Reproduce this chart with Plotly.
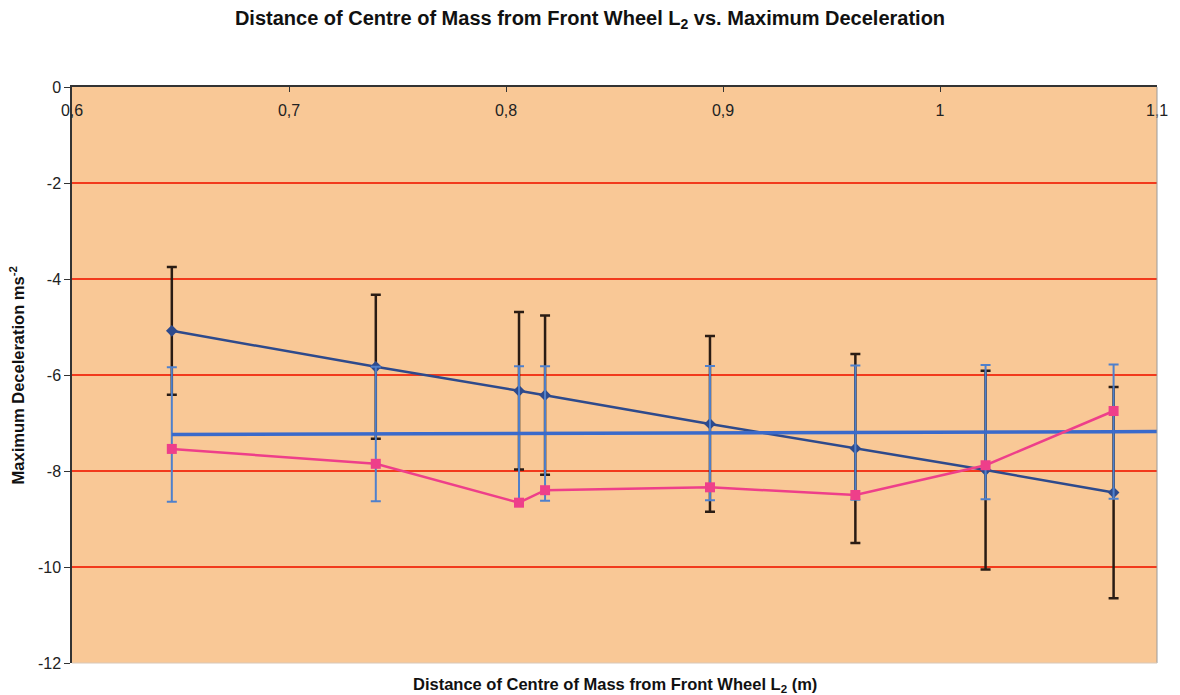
import plotly.graph_objects as go

# ---- data ----
x_l2 = [0.646, 0.740, 0.806, 0.818, 0.894, 0.961, 1.021, 1.080]

decel_a = [-5.08, -5.83, -6.33, -6.42, -7.02, -7.53, -7.98, -8.45]
decel_a_err = [1.33, 1.50, 1.64, 1.66, 1.83, 1.97, 2.07, 2.20]

decel_b = [-7.54, -7.85, -8.66, -8.40, -8.34, -8.50, -7.88, -6.75]

mean_y = [-7.24, -7.23, -7.22, -7.22, -7.21, -7.20, -7.19, -7.18]
mean_err = [1.40, 1.40, 1.40, 1.40, 1.40, 1.40, 1.40, 1.40]
mean_ext_x = [1.080, 1.100]
mean_ext_y = [-7.18, -7.175]

x_tickvals = [0.6, 0.7, 0.8, 0.9, 1.0, 1.1]
x_ticktext = ["0,6", "0,7", "0,8", "0,9", "1", "1,1"]
y_tickvals = [0, -2, -4, -6, -8, -10, -12]
y_ticktext = ["0", "-2", "-4", "-6", "-8", "-10", "-12"]

FONT = "Liberation Sans, Arial, sans-serif"

fig = go.Figure()

fig.add_trace(go.Scatter(
    x=x_l2, y=decel_a, mode="lines+markers",
    line=dict(color="#2e4a8c", width=2.5),
    marker=dict(symbol="diamond", size=9, color="#2e4a8c"),
    error_y=dict(type="data", array=decel_a_err, visible=True,
                 color="#2a1c14", thickness=2.5, width=5),
    showlegend=False))

fig.add_trace(go.Scatter(
    x=x_l2, y=mean_y, mode="lines",
    line=dict(color="#3a6acb", width=3.5),
    error_y=dict(type="data", array=mean_err, visible=True,
                 color="#4f80cc", thickness=2, width=5),
    showlegend=False))

fig.add_trace(go.Scatter(
    x=mean_ext_x, y=mean_ext_y, mode="lines",
    line=dict(color="#3a6acb", width=3.5),
    showlegend=False))

fig.add_trace(go.Scatter(
    x=x_l2, y=decel_b, mode="lines+markers",
    line=dict(color="#ee3f8a", width=2.5),
    marker=dict(symbol="square", size=10, color="#ee3f8a"),
    showlegend=False))

fig.update_layout(
    width=1180, height=695,
    margin=dict(l=72, r=14, t=87, b=32),
    paper_bgcolor="white",
    plot_bgcolor="#f9c896",
    font=dict(family=FONT, size=16, color="#1a1a1a"),
    title=dict(
        text="<b>Distance of Centre of Mass from Front Wheel L<sub>2</sub> vs. Maximum Deceleration</b>",
        x=0.5, xref="container", xanchor="center",
        y=1 - 18 / 695, yref="container", yanchor="middle",
        font=dict(family=FONT, size=20, color="#111")),
    xaxis=dict(
        range=[0.6, 1.1], side="top",
        tickvals=x_tickvals, ticktext=x_ticktext,
        ticklabelposition="inside", ticklabeloverflow="allow",
        ticklabelstandoff=13,
        ticks="inside", ticklen=5, tickcolor="#333",
        showline=True, linecolor="#333", linewidth=1.5,
        showgrid=False, zeroline=False,
        tickfont=dict(family=FONT, size=16, color="#222")),
    yaxis=dict(
        range=[-12, 0],
        tickvals=y_tickvals, ticktext=y_ticktext,
        ticks="outside", ticklen=6, tickcolor="#333",
        showline=True, linecolor="#333", linewidth=1.5,
        showgrid=True, gridcolor="#f23a1c", gridwidth=1.6,
        zeroline=False,
        tickfont=dict(family=FONT, size=16, color="#222")),
    annotations=[
        dict(text="<b>Distance of Centre of Mass from Front Wheel L<sub>2</sub> (m)</b>",
             xref="paper", yref="paper", x=0.5, y=-22 / 576,
             xanchor="center", yanchor="middle", showarrow=False,
             font=dict(family=FONT, size=16.5, color="#111")),
        dict(text="<b>Maximum Deceleration ms<sup>-2</sup></b>",
             xref="paper", yref="paper", x=-55 / 1094, y=0.5,
             xanchor="center", yanchor="middle", showarrow=False, textangle=-90,
             font=dict(family=FONT, size=16.5, color="#111")),
    ],
    shapes=[
        dict(type="line", xref="paper", yref="paper", x0=1, x1=1, y0=0, y1=1,
             line=dict(color="#9a9a9a", width=1)),
        dict(type="line", xref="paper", yref="paper", x0=0, x1=1, y0=0, y1=0,
             line=dict(color="#d8c8b8", width=1)),
    ],
)

fig.write_html("out.html")
